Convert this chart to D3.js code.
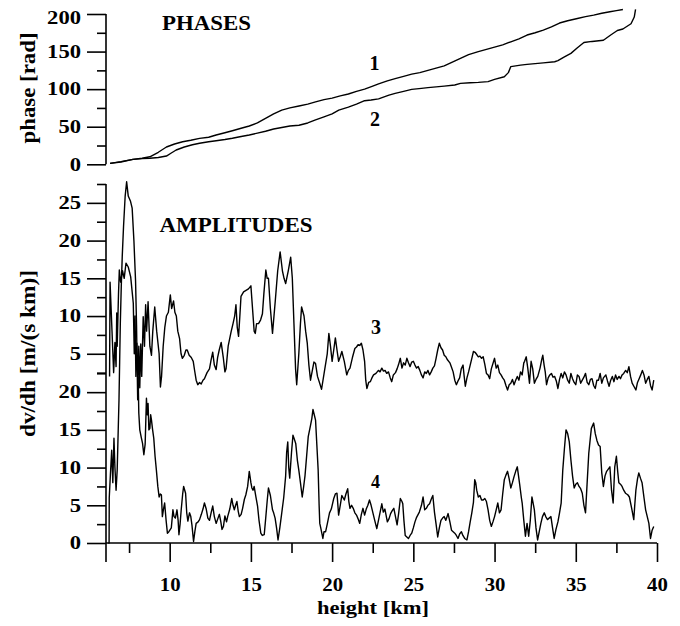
<!DOCTYPE html>
<html><head><meta charset="utf-8">
<script src="https://cdn.jsdelivr.net/npm/d3@7"></script>
<style>
html,body{margin:0;padding:0;background:#fff;}
svg{display:block;}
</style></head>
<body>
<svg id="chart" width="680" height="626"></svg>
<script>
// ---------- DATA (height km, value) ----------
const phase1 = [[6.33,1.3],[7.0,3],[7.74,6.6],[8.3,8],[8.78,10],[9.3,16],[9.8,23],[10.3,27],[10.8,30],[11.3,32],[11.84,34.5],[12.4,36],[12.86,39],[13.4,42],[13.86,44.7],[14.4,48],[14.9,51],[15.4,55],[15.9,61],[16.4,67],[16.9,72],[17.4,75],[17.96,77.5],[18.5,80],[18.98,83],[19.5,86],[20,88],[20.5,91],[21,93.5],[21.5,97],[22,100],[22.5,104],[22.86,107],[23.4,111],[23.88,114],[24.4,117],[24.9,120],[25.4,122],[25.9,125],[26.4,128],[26.9,131],[27.4,136],[27.9,141],[28.4,146],[29,150],[29.5,153],[30,156],[30.5,159],[31,163],[31.5,167],[32,172],[32.5,175],[33,178.6],[33.5,183],[34,188],[34.5,191],[35.1,194],[35.6,196.5],[36.1,198.5],[36.6,201],[37.1,203],[37.5,204.5],[37.9,206]];
const phase2 = [[6.33,1.3],[7.0,3.5],[7.74,6.6],[8.3,7.5],[8.78,8],[9.3,9],[9.8,11],[10.1,15],[10.4,19],[10.9,23],[11.4,26],[11.84,28],[12.4,30],[12.86,31.4],[13.4,33],[13.86,34.6],[14.4,37],[14.9,39],[15.4,41.5],[15.9,44],[16.4,47],[16.9,49],[17.4,51],[17.96,52],[18.5,55],[18.98,59],[19.5,63],[20,67],[20.41,72],[21,76],[21.5,80],[22,84.6],[22.4,85.5],[22.86,87],[23.5,92],[23.88,94.4],[24.4,97],[24.9,99.7],[25.5,101],[25.9,102],[26.4,103],[26.9,104],[27.55,105.5],[27.9,107.7],[28.5,108.5],[29,109],[29.6,110],[30,113],[30.6,116.5],[30.85,122],[31.0,130],[31.3,131],[31.6,132],[32,133],[32.5,134],[33,135],[33.7,136.5],[33.9,138],[34.3,143],[34.7,147.6],[35.1,155],[35.5,162],[36,163.5],[36.7,165],[37.15,172],[37.56,178],[37.9,180],[38.4,187],[38.6,196],[38.68,206]];
const amp3 = [[6.3,2],[6.33,14.5],[6.45,8],[6.55,2.5],[6.63,6.5],[6.7,3.3],[6.74,10.4],[6.77,6],[6.85,13],[6.9,16.1],[6.98,14.5],[7.1,16],[7.2,15],[7.31,17],[7.45,16.5],[7.6,15.2],[7.7,13],[7.76,11.7],[7.82,5],[7.87,10],[7.92,2],[7.98,6.4],[8.04,1],[8.1,6],[8.16,0.5],[8.22,6.3],[8.28,2],[8.37,9.9],[8.45,6],[8.52,11.5],[8.58,8],[8.67,11.9],[8.78,6],[8.88,4.8],[8.96,8],[9.08,11.2],[9.2,8],[9.35,5],[9.43,0.6],[9.5,2],[9.6,6],[9.7,8.5],[9.8,10],[9.92,10.5],[10.04,12.8],[10.12,11],[10.24,12],[10.32,10.5],[10.41,10],[10.5,8],[10.61,7],[10.7,5],[10.78,4.4],[10.9,4.8],[11.0,5.5],[11.08,5.5],[11.2,4.8],[11.33,4.5],[11.45,4],[11.53,2.85],[11.63,1.5],[11.73,0.9],[11.84,1.2],[11.94,1],[12.05,1.5],[12.14,1.7],[12.3,2.5],[12.45,3],[12.55,4.2],[12.65,5.2],[12.75,3.5],[12.86,2.9],[12.95,4.5],[13.05,5.5],[13.17,6.5],[13.3,4.5],[13.4,2.6],[13.47,3],[13.6,6],[13.78,7.9],[13.9,9],[14.0,10],[14.08,11.5],[14.16,8.5],[14.24,7.3],[14.32,10],[14.39,12.6],[14.55,13.2],[14.7,13.4],[14.85,13.6],[15.0,14],[15.1,11],[15.2,8],[15.27,7.7],[15.35,9],[15.47,9],[15.6,9.5],[15.71,10.3],[15.8,13],[15.92,16.1],[16.0,15],[16.08,15],[16.2,11],[16.33,7.7],[16.5,12],[16.65,16],[16.8,18.5],[16.94,16],[17.04,15],[17.14,14.3],[17.3,16],[17.45,17.8],[17.55,15],[17.65,9],[17.75,3],[17.82,0.9],[17.95,5],[18.05,9],[18.12,11.2],[18.27,10],[18.37,8],[18.47,6.4],[18.57,3.5],[18.67,1.5],[18.8,3],[18.88,3.9],[18.98,3.7],[19.1,2],[19.25,1],[19.35,0.3],[19.55,3],[19.7,5],[19.8,7.7],[19.9,6],[20.0,4],[20.1,5.5],[20.2,7.1],[20.3,5.5],[20.4,4],[20.5,4.6],[20.6,5.3],[20.75,4],[20.9,2.2],[21.0,2.8],[21.1,3.1],[21.25,4.5],[21.4,5.7],[21.5,5.9],[21.6,6.2],[21.7,6.1],[21.8,6.4],[21.9,5.5],[22.0,4],[22.07,1.5],[22.14,0.4],[22.25,1.2],[22.35,1.3],[22.45,1.8],[22.55,2.2],[22.7,2.4],[22.85,2.8],[22.95,2.6],[23.06,3.1],[23.16,2.7],[23.26,2.8],[23.36,2.4],[23.47,2.6],[23.58,1.8],[23.67,1.3],[23.77,2.2],[23.9,2.5],[24.0,3],[24.08,3.5],[24.2,4.4],[24.3,3.1],[24.4,3.8],[24.5,3.5],[24.6,4.4],[24.7,3.8],[24.8,3.3],[24.9,3.9],[25.0,4],[25.1,3.5],[25.2,3.1],[25.3,3.3],[25.4,2.8],[25.5,2.2],[25.6,1.8],[25.7,2.6],[25.8,2.4],[25.9,2.8],[26.0,2.2],[26.1,2.6],[26.2,3.1],[26.3,3.4],[26.4,4.4],[26.5,5.5],[26.6,6.4],[26.7,5.8],[26.8,5.5],[26.9,4.8],[27.0,4.6],[27.1,4.2],[27.25,3.8],[27.35,3.2],[27.45,2.6],[27.55,1.5],[27.65,0.9],[27.75,1.4],[27.85,1.8],[27.95,3],[28.06,3.5],[28.13,2],[28.2,0.7],[28.3,1.8],[28.4,2.6],[28.5,3.5],[28.6,4.4],[28.7,5.3],[28.8,5.2],[28.9,4.9],[29.0,4.6],[29.1,4.7],[29.2,4.4],[29.3,4.6],[29.4,3.6],[29.5,2.4],[29.6,2.2],[29.7,1.7],[29.8,3],[30.0,4.4],[30.1,3.1],[30.2,3.5],[30.3,2.5],[30.4,2.2],[30.5,1.8],[30.6,1.5],[30.7,0.8],[30.8,0.2],[30.9,0.9],[31.0,1.1],[31.1,1.6],[31.2,0.9],[31.3,1.5],[31.4,2],[31.5,1.5],[31.6,2.6],[31.7,2.2],[31.8,3.8],[31.85,4],[31.95,4.6],[32.05,3],[32.15,1.1],[32.25,4],[32.35,3],[32.45,1.1],[32.55,1.6],[32.66,2],[32.8,3.1],[32.9,4.2],[32.97,4.8],[33.05,3.5],[33.12,2.6],[33.2,0.9],[33.3,1.8],[33.4,2.2],[33.5,2.4],[33.6,1.9],[33.7,2],[33.8,1.4],[33.9,0.4],[34.0,1.6],[34.1,2.4],[34.2,1.8],[34.3,2.6],[34.4,2.2],[34.5,1.5],[34.6,1.1],[34.7,2.4],[34.8,1.7],[34.9,1.2],[35.0,0.9],[35.1,2.2],[35.2,2],[35.3,1.1],[35.4,1.5],[35.5,1.9],[35.6,2.4],[35.7,1.2],[35.8,0.9],[35.9,1.6],[36.0,1.7],[36.1,0.8],[36.2,0.4],[36.3,1.5],[36.4,1.5],[36.5,2.4],[36.6,1.1],[36.7,1.8],[36.85,2.2],[36.95,1.4],[37.05,0.7],[37.15,1.5],[37.25,2],[37.35,1.3],[37.45,2.2],[37.55,1.6],[37.66,2],[37.75,1.7],[37.85,2.2],[37.95,2.4],[38.07,2.8],[38.17,2.5],[38.27,3.3],[38.37,2],[38.47,1.1],[38.6,0.6],[38.7,0.2],[38.8,1.2],[38.9,1.7],[39.0,2.2],[39.1,2.8],[39.2,2.2],[39.3,1.1],[39.4,1.6],[39.5,2],[39.6,0.8],[39.7,0.2],[39.8,1.5]];
const amp4 = [[6.22,0],[6.27,0],[6.28,6],[6.35,9],[6.43,12.3],[6.5,8],[6.57,13.9],[6.63,10],[6.7,7],[6.77,9.7],[6.88,19],[6.92,24],[6.96,29],[7.02,34],[7.08,38],[7.16,42],[7.26,46],[7.35,47.9],[7.45,46],[7.59,45.3],[7.69,44.4],[7.8,40],[7.9,34.7],[7.96,28.9],[8.0,23.2],[8.03,19],[8.06,22],[8.1,17.2],[8.16,15],[8.25,14],[8.33,13.2],[8.41,11.7],[8.49,13.1],[8.57,19.2],[8.62,17],[8.67,18.5],[8.72,15],[8.78,15.2],[8.83,17],[8.88,16.3],[8.95,15],[9.02,13.9],[9.1,11.5],[9.18,9.7],[9.27,7.5],[9.35,6.1],[9.42,6.5],[9.49,6.4],[9.55,3.5],[9.62,4.5],[9.69,5.3],[9.78,3],[9.86,1.3],[9.95,1.5],[10.1,2],[10.2,4.4],[10.27,3.5],[10.35,3.3],[10.45,4.4],[10.52,3],[10.57,1.1],[10.64,2.5],[10.71,4.4],[10.8,6.5],[10.86,7.5],[10.98,6.6],[11.05,4],[11.12,2.9],[11.22,4],[11.3,3.5],[11.37,2.4],[11.47,0.2],[11.55,1.5],[11.63,2.6],[11.75,2.8],[11.84,3.1],[11.95,3.8],[12.05,4.5],[12.14,5.3],[12.25,4.5],[12.35,3.3],[12.45,3],[12.55,4],[12.65,4.9],[12.75,3.5],[12.86,2.6],[12.96,3.2],[13.06,3.8],[13.15,2.8],[13.22,1.8],[13.31,2.2],[13.4,3.6],[13.5,2.8],[13.57,3.5],[13.7,4.5],[13.82,5.9],[13.9,5],[13.98,4.4],[14.06,5],[14.14,5.5],[14.22,4.2],[14.29,3.5],[14.4,3.8],[14.49,4.6],[14.6,5.8],[14.69,6.4],[14.8,7.5],[14.9,9.5],[15.0,8],[15.06,7.3],[15.13,7],[15.2,7.5],[15.3,6.2],[15.41,4.9],[15.5,3],[15.61,1.3],[15.7,1],[15.82,1.1],[15.9,3],[16.0,5.5],[16.08,7.3],[16.2,6.3],[16.33,4.4],[16.4,4],[16.49,3.3],[16.58,2],[16.67,0.4],[16.78,2],[16.9,4],[17.02,6],[17.14,8.9],[17.2,12],[17.27,13.4],[17.33,10],[17.39,8.6],[17.5,12],[17.59,14.3],[17.67,13.8],[17.76,13.2],[17.86,11],[17.96,9.5],[18.05,8],[18.16,6.1],[18.25,7.5],[18.33,8.9],[18.43,11.5],[18.53,14.1],[18.67,15.6],[18.75,16.5],[18.82,17.7],[18.9,17],[18.98,16.3],[19.06,13],[19.14,9.7],[19.2,5],[19.24,2.6],[19.3,2],[19.43,0.6],[19.5,1.5],[19.6,1.5],[19.7,2.5],[19.84,4],[19.95,4.5],[20.1,5.9],[20.2,6.5],[20.3,6.6],[20.4,3.7],[20.5,5],[20.6,6.3],[20.75,5.7],[20.85,6.5],[20.96,7.2],[21.03,5.5],[21.1,4.6],[21.2,5],[21.3,4.6],[21.4,4],[21.5,3.7],[21.6,3.2],[21.7,2.6],[21.8,3.8],[21.9,4.6],[22.0,3.7],[22.1,4.5],[22.2,5],[22.3,5.7],[22.4,5],[22.5,4.1],[22.6,3.2],[22.75,1.9],[22.9,3.5],[23.06,5.2],[23.15,4.1],[23.25,4.5],[23.4,2.8],[23.5,3.2],[23.6,3.9],[23.7,4.3],[23.8,4.6],[23.9,3.5],[24.0,2.4],[24.1,4],[24.2,5.9],[24.3,5.5],[24.35,5.2],[24.42,3],[24.5,1.0],[24.6,0.8],[24.7,0.6],[24.8,1],[24.9,1.3],[25.0,2],[25.1,2.8],[25.2,3.4],[25.37,4.1],[25.5,5],[25.6,6.1],[25.7,4.4],[25.8,4.6],[25.9,5],[26.0,5.2],[26.1,5.8],[26.2,6.3],[26.3,4.1],[26.4,2.5],[26.5,0.8],[26.6,2],[26.7,3],[26.8,3.3],[26.9,3.5],[27.0,3],[27.14,3.9],[27.25,2.8],[27.35,1.7],[27.45,1.5],[27.55,1.3],[27.65,1],[27.75,0.6],[27.85,1.2],[27.96,1.5],[28.05,1],[28.16,0.6],[28.3,0.4],[28.4,1.5],[28.5,2.8],[28.6,4],[28.7,5.4],[28.78,8.4],[28.84,8],[28.9,7],[29.0,6.1],[29.1,6.3],[29.2,5.7],[29.3,5.7],[29.4,5.9],[29.5,5.5],[29.6,4.4],[29.7,3],[29.8,2.2],[29.9,2.8],[30.0,3.5],[30.1,4.4],[30.2,5.3],[30.3,4],[30.4,4.4],[30.5,6.5],[30.6,8.4],[30.7,9],[30.8,9.5],[30.9,8.5],[31.0,7.3],[31.1,8],[31.2,8.8],[31.3,9.5],[31.4,10.1],[31.5,8.5],[31.55,7.7],[31.65,6],[31.7,5.3],[31.8,3],[31.9,0.9],[32.0,2.6],[32.1,0.9],[32.2,3],[32.3,6.1],[32.4,5],[32.45,4.4],[32.55,2],[32.65,0.4],[32.75,1.5],[32.85,2.6],[32.95,3.5],[33.06,4],[33.15,3.5],[33.26,3.1],[33.36,3.3],[33.47,3.5],[33.57,2],[33.67,0.6],[33.78,1.8],[33.9,2.8],[34.0,4],[34.1,5.3],[34.2,9.7],[34.3,12.5],[34.4,15],[34.5,14.5],[34.6,13.4],[34.7,11],[34.8,8.9],[34.9,7.3],[35.0,7.8],[35.1,8],[35.2,7.5],[35.3,7.2],[35.4,6.6],[35.5,5],[35.6,4],[35.7,8],[35.8,11.9],[35.9,14],[35.96,15.2],[36.1,15.9],[36.2,14.5],[36.3,13.6],[36.4,13],[36.5,12.8],[36.6,9.3],[36.7,7.5],[36.8,8.9],[36.9,9.5],[37.0,9.8],[37.1,10.1],[37.2,7],[37.3,5.3],[37.4,10.1],[37.5,11.5],[37.58,9.5],[37.65,8],[37.75,7.8],[37.85,7.5],[37.95,7],[38.06,6.6],[38.2,6.4],[38.3,6.1],[38.45,4.5],[38.57,3.1],[38.63,5],[38.7,7],[38.8,8.5],[38.88,9.3],[38.98,8.6],[39.08,8],[39.2,6],[39.3,4.4],[39.4,3.5],[39.5,2.6],[39.6,0.6],[39.7,1.7],[39.8,2.2]];

const xMajor = [10,15,20,25,30,35,40];
const xMinor = [7.5,12.5,17.5,22.5,27.5,32.5,37.5];
const phaseMajor = [0,50,100,150,200];
const phaseMinor = [25,75,125,175];
const amp3Major = [5,10,15,20,25];
const amp3Minor = [2.5,7.5,12.5,17.5,22.5,27.5];
const amp4Major = [0,5,10,15,20];
const amp4Minor = [2.5,7.5,12.5,17.5,22.5];
const curveLabels = ["1","2","3","4"];

// ---------- DRAWING ----------
const svg = d3.select("#chart");
const FONT = "'Liberation Serif','Times New Roman',serif";
const axisX = 106;

const x = d3.scaleLinear().domain([6.08, 40]).range([106, 657]);
const yPh = d3.scaleLinear().domain([0, 200]).range([164.3, 14]);
const y3 = d3.scaleLinear().domain([0, 27.5]).range([391.5, 184]);
const y4 = d3.scaleLinear().domain([0, 22.5]).range([543, 373.3]);

function styleAxis(g, digitW) {
  g.select(".domain").remove();
  g.selectAll("line").attr("stroke", "#000").attr("stroke-width", 1.6);
  g.selectAll("text")
    .attr("font-family", FONT).attr("font-weight", "bold")
    .attr("font-size", 18).attr("fill", "#000")
    .each(function() {
      const t = d3.select(this);
      const n = t.text().length;
      if (n) t.attr("textLength", n * digitW).attr("lengthAdjust", "spacingAndGlyphs");
    });
}

function yAxis(scale, major, minor) {
  const gMaj = svg.append("g").attr("transform", `translate(${axisX},0)`)
    .call(d3.axisLeft(scale).tickValues(major).tickSize(19).tickSizeOuter(0).tickPadding(6).tickFormat(d3.format("d")));
  styleAxis(gMaj, 11.3);
  const gMin = svg.append("g").attr("transform", `translate(${axisX},0)`)
    .call(d3.axisLeft(scale).tickValues(minor).tickSize(9).tickSizeOuter(0).tickFormat(""));
  styleAxis(gMin, 11.3);
  return gMaj;
}

const gPh = yAxis(yPh, phaseMajor, phaseMinor);
gPh.selectAll(".tick text").filter(d => d === 200).attr("dy", "0.55em");
yAxis(y3, amp3Major, amp3Minor);
yAxis(y4, amp4Major, amp4Minor);

// vertical axis lines
svg.append("line").attr("x1", axisX).attr("x2", axisX).attr("y1", yPh(200)).attr("y2", yPh(0))
  .attr("stroke", "#000").attr("stroke-width", 1.6);
svg.append("line").attr("x1", axisX).attr("x2", axisX).attr("y1", y3(27.5)).attr("y2", y4(0) + 19)
  .attr("stroke", "#000").attr("stroke-width", 1.6);

// x axis
const gx = svg.append("g").attr("transform", `translate(0,${y4(0)})`)
  .call(d3.axisBottom(x).tickValues(xMajor).tickSize(19).tickSizeOuter(0).tickPadding(16).tickFormat(d3.format("d")));
styleAxis(gx, 10.4);
const gxm = svg.append("g").attr("transform", `translate(0,${y4(0)})`)
  .call(d3.axisBottom(x).tickValues(xMinor).tickSize(10).tickSizeOuter(0).tickFormat(""));
styleAxis(gxm, 10);
svg.append("line").attr("x1", x.range()[0]).attr("x2", x.range()[1]).attr("y1", y4(0)).attr("y2", y4(0))
  .attr("stroke", "#000").attr("stroke-width", 1.6);

// curves
const mk = ys => d3.line().x(d => x(d[0])).y(d => ys(d[1]));
const curves = [[phase1, yPh], [phase2, yPh], [amp3, y3], [amp4, y4]];
curves.forEach(([data, ys]) => {
  svg.append("path").datum(data).attr("d", mk(ys))
    .attr("fill", "none").attr("stroke", "#000").attr("stroke-width", 1.4)
    .attr("stroke-linejoin", "round");
});

// texts
function txt(s, xx, yy, opts = {}) {
  const t = svg.append("text").text(s).attr("x", xx).attr("y", yy)
    .attr("font-family", FONT).attr("font-weight", "bold")
    .attr("font-size", opts.size || 20).attr("fill", "#000")
    .attr("text-anchor", opts.anchor || "start");
  if (opts.len) t.attr("textLength", opts.len).attr("lengthAdjust", "spacingAndGlyphs");
  if (opts.rot) t.attr("transform", `rotate(-90,${xx},${yy})`);
  return t;
}
txt("PHASES", 162, 30, {len: 89, size: 20});
txt("AMPLITUDES", 159.5, 231.5, {len: 153, size: 20});
txt(curveLabels[0], 374.5, 70, {anchor: "middle", size: 20});
txt(curveLabels[1], 375, 126, {anchor: "middle", size: 20});
txt(curveLabels[2], 376, 334, {anchor: "middle", size: 20});
txt(curveLabels[3], 375.5, 488, {anchor: "middle", size: 18});
txt("phase [rad]", 35, 88, {anchor: "middle", rot: true, len: 111, size: 20});
txt("dv/dh [m/(s km)]", 35, 353.5, {anchor: "middle", rot: true, len: 167, size: 20});
txt("height [km]", 373, 614, {anchor: "middle", len: 112, size: 18});
</script>
</body></html>
